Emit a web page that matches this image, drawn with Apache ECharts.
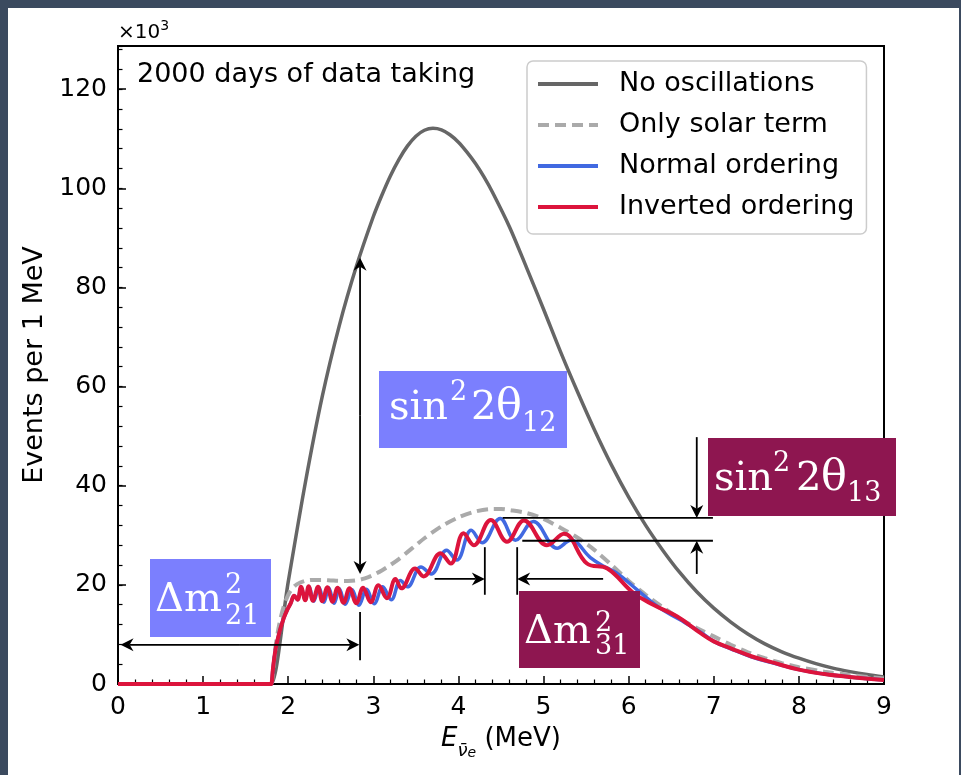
<!DOCTYPE html>
<html>
<head>
<meta charset="utf-8">
<script src="https://cdn.jsdelivr.net/npm/echarts@6/dist/echarts.min.js"></script>
<style>
  html, body { margin: 0; padding: 0; background: #3b4a5f; }
  #panel { position: absolute; left: 8px; top: 8px; width: 951px; height: 767px; background: #ffffff; }
  #chart { position: absolute; left: 0; top: 0; width: 961px; height: 775px; }
</style>
</head>
<body>
<div id="panel"></div>
<div id="chart"></div>
<script>
// Reactor antineutrino spectrum, events per 1 MeV (x10^3), 2000 days of data taking

// Unoscillated spectrum
const noOscE = [0, 1.79, 1.80, 2.00, 2.20, 2.40, 2.60, 2.80, 3.00, 3.10, 3.20, 3.30, 3.40, 3.50, 3.60, 3.70, 3.80, 3.90, 4.00, 4.10, 4.20, 4.30, 4.40, 4.60, 4.80, 5.00, 5.20, 5.40, 5.60, 5.80, 6.00, 6.20, 6.40, 6.60, 6.80, 7.00, 7.20, 7.40, 7.60, 7.80, 8.00, 8.20, 8.40, 8.60, 8.80, 9.00];
const noOscV = [0, 0, 0, 20.6, 40.5, 58, 72.3, 84.2, 94.3, 98.6, 102.5, 105.8, 108.5, 110.5, 111.7, 112.1, 111.8, 110.8, 109.3, 107.3, 105.0, 102.3, 99.2, 92.2, 84.0, 75.6, 67.0, 58.9, 51.2, 44.1, 37.7, 32.0, 27.0, 22.5, 18.6, 15.3, 12.5, 10.1, 8.1, 6.5, 5.2, 4.1, 3.2, 2.5, 1.9, 1.4];

// Only the solar (theta12) oscillation term
const solarE = [0, 1.79, 1.80, 1.85, 1.90, 1.95, 2.00, 2.05, 2.10, 2.20, 2.30, 2.40, 2.50, 2.60, 2.70, 2.80, 2.90, 3.00, 3.10, 3.20, 3.30, 3.40, 3.50, 3.60, 3.80, 4.00, 4.20, 4.40, 4.50, 4.60, 4.80, 5.00, 5.20, 5.40, 5.60, 5.80, 6.00, 6.20, 6.40, 6.60, 6.80, 7.00, 7.20, 7.40, 7.60, 7.80, 8.00, 8.30, 8.60, 9.00];
const solarV = [0, 0, 0, 7.5, 12.5, 15.8, 18, 19.3, 20.1, 20.8, 21, 21, 20.9, 20.8, 20.8, 20.9, 21.3, 22, 22.9, 24, 25.2, 26.6, 28, 29.4, 31.8, 33.6, 34.8, 35.3, 35.3, 35.1, 34.5, 33.3, 31.5, 29.5, 27, 24, 20.8, 18, 15.5, 13.2, 11.3, 9.6, 7.9, 6.4, 5.2, 4.2, 3.4, 2.5, 1.8, 1.1];

// Normal mass ordering
const normalE = [0, 1.79, 1.80, 1.82, 1.85, 1.88, 1.91, 1.95, 1.99, 2.03, 2.07, 2.11, 2.15, 2.20, 2.245, 2.30, 2.36, 2.42, 2.475, 2.54, 2.60, 2.67, 2.75, 2.83, 2.92, 3.01, 3.11, 3.21, 3.32, 3.40, 3.56, 3.68, 3.86, 3.98, 4.15, 4.28, 4.49, 4.67, 4.88, 5.16, 5.32, 5.55, 5.70, 5.85, 6.10, 6.35, 6.60, 6.85, 7.00, 7.20, 7.44, 7.70, 8.00, 8.30, 8.60, 9.00];
const normalV = [0, 0, 0, 3, 6.9, 9.3, 11.3, 13.4, 15.0, 16.3, 17.8, 17.0, 19.5, 16.9, 19.6, 16.7, 19.5, 16.5, 19.4, 16.3, 19.2, 16.1, 19.0, 15.9, 19.1, 16.2, 19.6, 17.0, 20.9, 19.6, 23.6, 22.2, 27.0, 25.0, 31.0, 28.5, 33.4, 29.0, 32.8, 27.4, 29.0, 25.5, 23.8, 22.5, 19.0, 15.5, 13.0, 10.4, 8.6, 7.1, 5.5, 4.2, 2.9, 2.0, 1.4, 0.8];

// Inverted mass ordering
const invertedE = [0, 1.79, 1.80, 1.82, 1.85, 1.88, 1.91, 1.95, 1.99, 2.03, 2.07, 2.11, 2.15, 2.20, 2.24, 2.29, 2.35, 2.40, 2.46, 2.52, 2.58, 2.65, 2.72, 2.80, 2.88, 2.97, 3.06, 3.16, 3.26, 3.33, 3.49, 3.59, 3.79, 3.91, 4.06, 4.18, 4.38, 4.57, 4.77, 5.04, 5.24, 5.51, 5.75, 6.06, 6.30, 6.57, 6.85, 7.00, 7.20, 7.44, 7.70, 8.00, 8.30, 8.60, 9.00];
const invertedV = [0, 0, 0, 3, 6.9, 9.3, 11.3, 13.4, 15.0, 16.3, 17.8, 17.0, 19.6, 16.9, 19.7, 16.8, 19.6, 16.7, 19.5, 16.6, 19.4, 16.4, 19.3, 16.3, 19.4, 16.5, 19.9, 17.3, 21.2, 19.3, 23.3, 21.7, 26.4, 24.3, 30.4, 28.0, 33.1, 28.7, 33.0, 28.0, 30.3, 24.3, 23.3, 18.3, 15.9, 13.6, 10.2, 8.6, 7.2, 5.6, 4.3, 2.9, 2.0, 1.4, 0.8];

const seriesNames = ['No oscillations', 'Only solar term', 'Normal ordering', 'Inverted ordering'];
const xTicks = [0, 1, 2, 3, 4, 5, 6, 7, 8, 9];
const yTicks = [0, 20, 40, 60, 80, 100, 120];

const zip = (xs, ys) => xs.map((x, i) => [x, ys[i]]);

const FONT = 'DejaVu Sans';
const chart = echarts.init(document.getElementById('chart'), null, { renderer: 'canvas' });

const Y_MAX = 128.7;

chart.setOption({
  animation: false,
  backgroundColor: 'transparent',
  grid: { left: 118, top: 46, right: 77, bottom: 91, show: true, borderColor: '#000', borderWidth: 2, backgroundColor: 'transparent' },
  legend: {
    orient: 'vertical',
    left: 527, top: 61,
    padding: [8, 12, 12, 9],
    itemWidth: 60, itemHeight: 14, itemGap: 11,
    backgroundColor: '#ffffff',
    borderColor: '#cccccc', borderWidth: 1.5, borderRadius: 6,
    itemStyle: { opacity: 0 },
    lineStyle: { width: 4 },
    textStyle: { fontFamily: FONT, fontSize: 27, color: '#000', padding: [0, 0, 0, 16], lineHeight: 30 },
    data: seriesNames,
    selectedMode: false
  },
  xAxis: {
    type: 'value', min: xTicks[0], max: xTicks[xTicks.length - 1], interval: 1,
    name: '{e|E}{s|ν̄}{se|e}{m| (MeV)}',
    nameLocation: 'middle', nameGap: 42,
    nameTextStyle: {
      rich: {
        e: { fontFamily: FONT, fontStyle: 'italic', fontSize: 26, color: '#000', lineHeight: 34, verticalAlign: 'top' },
        s: { fontFamily: FONT, fontStyle: 'italic', fontSize: 18, color: '#000', lineHeight: 34, verticalAlign: 'bottom' },
        se: { fontFamily: FONT, fontStyle: 'italic', fontSize: 14, color: '#000', lineHeight: 30, verticalAlign: 'bottom' },
        m: { fontFamily: FONT, fontSize: 26, color: '#000', lineHeight: 34, verticalAlign: 'top' }
      }
    },
    axisLine: { show: true, lineStyle: { color: '#000', width: 2 } },
    axisTick: { show: true, inside: true, length: 8, lineStyle: { color: '#000', width: 1.5 } },
    minorTick: { show: true, splitNumber: 5, length: 4.5, lineStyle: { color: '#000', width: 1.2 } },
    axisLabel: { fontFamily: FONT, fontSize: 25, color: '#000', margin: 11 },
    splitLine: { show: false }
  },
  yAxis: [{
    type: 'value', min: yTicks[0], max: Y_MAX, interval: 20,
    name: 'Events per 1 MeV', nameLocation: 'middle', nameGap: 66, nameRotate: 90,
    nameTextStyle: { fontFamily: FONT, fontSize: 27, color: '#000' },
    axisLine: { show: true, lineStyle: { color: '#000', width: 2 } },
    axisTick: { show: true, inside: true, length: 8, lineStyle: { color: '#000', width: 1.5 } },
    axisLabel: { fontFamily: FONT, fontSize: 25, color: '#000', margin: 11, showMaxLabel: false,
      formatter: v => (yTicks.indexOf(v) >= 0 ? String(v) : '') },
    splitLine: { show: false }
  }, {
    // minor ticks every 4 (x10^3)
    type: 'value', min: yTicks[0], max: Y_MAX, interval: 4, position: 'left',
    axisLine: { show: false },
    axisTick: { show: true, inside: true, length: 4.5, lineStyle: { color: '#000', width: 1.2 } },
    axisLabel: { show: false },
    splitLine: { show: false }
  }],
  series: [
    { name: seriesNames[0], type: 'line', data: zip(noOscE, noOscV), symbol: 'none', smooth: 0.3,
      lineStyle: { color: '#666666', width: 3.5 }, itemStyle: { color: '#666666' } },
    { name: seriesNames[1], type: 'line', data: zip(solarE, solarV), symbol: 'none', smooth: 0.3,
      lineStyle: { color: '#aaaaaa', width: 4, type: [11, 6] }, itemStyle: { color: '#aaaaaa' } },
    { name: seriesNames[2], type: 'line', data: zip(normalE, normalV), symbol: 'none', smooth: 0.4,
      lineStyle: { color: '#4169e1', width: 3.5 }, itemStyle: { color: '#4169e1' } },
    { name: seriesNames[3], type: 'line', data: zip(invertedE, invertedV), symbol: 'none', smooth: 0.4,
      lineStyle: { color: '#dc143c', width: 4 }, itemStyle: { color: '#dc143c' } }
  ]
});

// ---- annotations (positions in data units: [E, events]) ----
const px = p => chart.convertToPixel({ xAxisIndex: 0, yAxisIndex: 0 }, p);
const LW = 1.8;

function seg(a, b) {
  const A = px(a), B = px(b);
  return { type: 'line', z: 50, shape: { x1: A[0], y1: A[1], x2: B[0], y2: B[1] }, style: { stroke: '#000', lineWidth: LW } };
}
// shaft + filled head at the tip
function arrow(from, tip) {
  const A = px(from), T = px(tip);
  const dx = T[0] - A[0], dy = T[1] - A[1];
  const len = Math.hypot(dx, dy), ux = dx / len, uy = dy / len;
  const L = 13, W = 6.5;
  const bx = T[0] - ux * L, by = T[1] - uy * L;
  const nx = T[0] - ux * L * 0.7, ny = T[1] - uy * L * 0.7;
  return [
    { type: 'line', z: 50, shape: { x1: A[0], y1: A[1], x2: nx, y2: ny }, style: { stroke: '#000', lineWidth: LW } },
    { type: 'polygon', z: 51, shape: { points: [T, [bx - uy * W, by + ux * W], [nx, ny], [bx + uy * W, by - ux * W]] }, style: { fill: '#000' } }
  ];
}
function doubleArrow(a, b) {
  const mid = [(a[0] + b[0]) / 2, (a[1] + b[1]) / 2];
  return arrow(mid, a).concat(arrow(mid, b));
}

function label(box, color, parts) {
  const els = [{ type: 'rect', z: 60, shape: { x: box[0], y: box[1], width: box[2], height: box[3] }, style: { fill: color } }];
  parts.forEach(p => {
    els.push({ type: 'text', z: 61, x: p[1], y: p[2],
      style: { text: p[0], fontFamily: 'DejaVu Serif', fontSize: p[3], fill: '#ffffff', align: 'left', verticalAlign: 'middle' } });
  });
  return els;
}

const elements = [];
// sin^2 2theta12 : full spectrum vs. solar-suppressed level
elements.push(...doubleArrow([2.844, 22.2], [2.844, 86]));
// dm^2_21 : distance from threshold to the solar minimum
elements.push(...doubleArrow([0.03, 7.9], [2.836, 7.9]));
elements.push(seg([2.844, 4.8], [2.844, 14.5]));
// dm^2_31 : fast oscillation shift between orderings
elements.push(seg([4.31, 18], [4.31, 27.6]));
elements.push(seg([4.69, 18], [4.69, 27.6]));
elements.push(...arrow([3.72, 21.2], [4.31, 21.2]));
elements.push(...arrow([5.70, 21.2], [4.69, 21.2]));
// sin^2 2theta13 : fast oscillation amplitude
elements.push(seg([4.52, 33.5], [6.99, 33.5]));
elements.push(seg([4.75, 28.9], [6.99, 28.9]));
elements.push(...arrow([6.80, 49.8], [6.80, 33.5]));
elements.push(...arrow([6.80, 22.2], [6.80, 28.9]));

const BLUE_BOX = '#7b7ffe';
const WINE_BOX = '#8e1650';
elements.push(...label([379, 371, 188, 77], BLUE_BOX, [
  ['sin', 389, 409, 40], ['2', 450, 393, 27], ['2', 471, 409, 40], ['θ', 496, 408, 43], ['12', 522, 424, 27]
]));
elements.push(...label([150, 559, 121, 78], BLUE_BOX, [
  ['Δm', 155, 601, 40], ['2', 225, 586, 27], ['21', 225, 617, 27]
]));
elements.push(...label([519, 591, 121, 77], WINE_BOX, [
  ['Δm', 524, 633, 40], ['2', 595, 624, 27], ['31', 595, 647, 27]
]));
elements.push(...label([708, 438, 188, 78], WINE_BOX, [
  ['sin', 714, 480, 40], ['2', 773, 464, 27], ['2', 796, 480, 40], ['θ', 821, 479, 43], ['13', 847, 494, 27]
]));

// texts
elements.push({ type: 'text', z: 40, x: 137, y: 75,
  style: { text: '2000 days of data taking', fontFamily: FONT, fontSize: 27, fill: '#000', align: 'left', verticalAlign: 'middle' } });
elements.push({ type: 'text', z: 40, x: 118, y: 31,
  style: { text: '{a|×10}{b|3}', align: 'left', verticalAlign: 'middle',
    rich: { a: { fontFamily: FONT, fontSize: 20, fill: '#000', color: '#000', lineHeight: 24, verticalAlign: 'bottom' },
            b: { fontFamily: FONT, fontSize: 14, fill: '#000', color: '#000', lineHeight: 24, verticalAlign: 'top' } } } });

chart.setOption({ graphic: { elements: elements } });
</script>
</body>
</html>
